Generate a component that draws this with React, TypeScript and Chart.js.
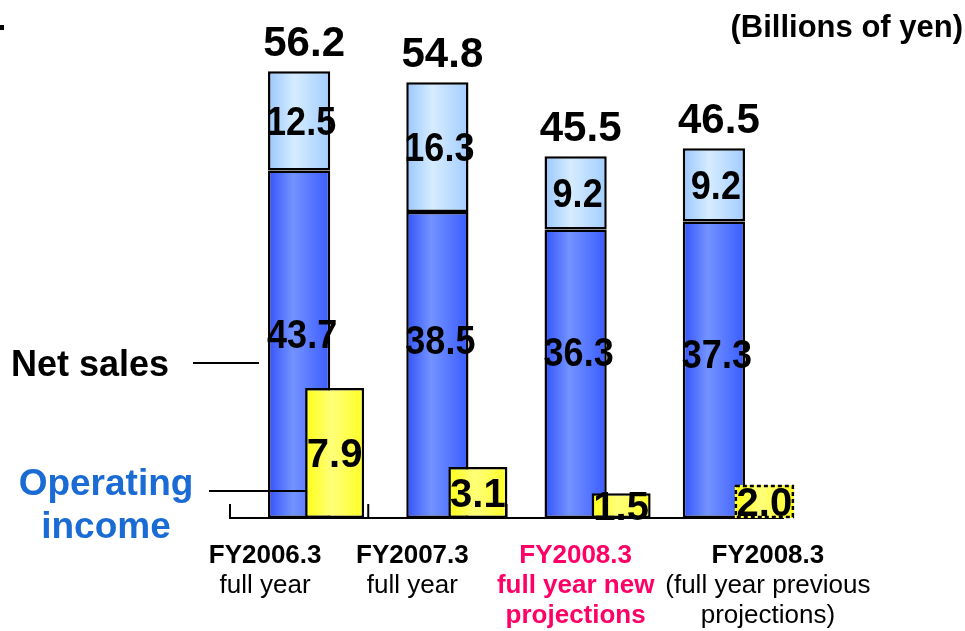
import React, { useEffect, useRef } from 'react';
import { Chart, registerables } from 'chart.js';

Chart.register(...registerables);

// ---- data ----
const categories = ['FY2006.3 full year', 'FY2007.3 full year', 'FY2008.3 full year new projections', 'FY2008.3 (full year previous projections)'];
const netSalesLower = [43.7, 38.5, 36.3, 37.3];
const netSalesUpper = [12.5, 16.3, 9.2, 9.2];
const operatingIncome = [7.9, 3.1, 1.5, 2.0];

const labelLine1 = ['FY2006.3', 'FY2007.3', 'FY2008.3', 'FY2008.3'];
const labelLine2 = ['full year', 'full year', 'full year new', '(full year previous'];
const labelLine3 = ['', '', 'projections', 'projections)'];

const unitTitle = '(Billions of yen)';
const netSalesTitle = 'Net sales';
const opIncomeTitle = ['Operating', 'income'];

// ---- styling ----
const FONT = "'Liberation Sans', Arial, Helvetica, sans-serif";
const HIGHLIGHT_INDEX = 2;
const DASHED_INDEX = 3;
const LABEL_SHIFT = [-34, -25, 0, 54];
const INNER_SHIFT = [-10, -25, -22, -16];

type Stops = [number, string][];
const DARK_STOPS: Stops = [[0, '#3353FA'], [0.4, '#7393FF'], [1, '#3A5CFF']];
const LIGHT_STOPS: Stops = [[0, '#99C7FF'], [0.42, '#D6ECFF'], [1, '#A2CDFF']];
const YELLOW_STOPS: Stops = [[0, '#FFFF14'], [0.45, '#FFFF7A'], [1, '#FFFF24']];

function barFill(half: number, stops: Stops, fallback: string) {
  return (c: any) => {
    const chart = c.chart;
    if (!chart.chartArea || c.dataIndex === undefined) return fallback;
    const cx = chart.scales.x.getPixelForValue(c.dataIndex);
    const g = chart.ctx.createLinearGradient(cx - half, 0, cx + half, 0);
    stops.forEach(([o, col]) => g.addColorStop(o, col));
    return g;
  };
}

function drawCondensed(ctx: CanvasRenderingContext2D, text: string, x: number, y: number, sx: number) {
  ctx.save();
  ctx.translate(x, y);
  ctx.scale(sx, 1);
  ctx.fillText(text, 0, 0);
  ctx.restore();
}

// plugin for the net-sales chart (underneath)
const salesPlugin = {
  id: 'salesAnnotate',
  beforeDatasetsDraw(chart: any) {
    const { ctx, chartArea: a } = chart;
    ctx.save();
    ctx.strokeStyle = '#000';
    ctx.lineWidth = 2;
    ctx.beginPath();
    ctx.moveTo(a.left, a.bottom);
    ctx.lineTo(a.right, a.bottom);
    const step = (a.right - a.left) / categories.length;
    for (let k = 0; k <= categories.length; k++) {
      const x = a.left + k * step;
      ctx.moveTo(x, a.bottom + 1);
      ctx.lineTo(x, a.bottom - 14);
    }
    ctx.stroke();
    ctx.restore();
  },
  afterDatasetsDraw(chart: any) {
    const { ctx } = chart;
    const lower = chart.getDatasetMeta(0).data;
    const upper = chart.getDatasetMeta(1).data;
    ctx.save();
    ctx.fillStyle = '#000';
    ctx.textAlign = 'center';
    ctx.textBaseline = 'alphabetic';
    for (let i = 0; i < categories.length; i++) {
      const lo = lower[i];
      const up = upper[i];
      ctx.font = `bold 40px ${FONT}`;
      drawCondensed(ctx, netSalesLower[i].toFixed(1), lo.x + 3, (lo.y + lo.base) / 2 + INNER_SHIFT[i] + 14, 0.9);
      drawCondensed(ctx, netSalesUpper[i].toFixed(1), up.x + 2, (up.y + up.base) / 2 + 14, 0.9);
      ctx.font = `bold 42px ${FONT}`;
      const total = netSalesLower[i] + netSalesUpper[i];
      ctx.fillText(total.toFixed(1), up.x + 5, up.y - 15);
    }
    ctx.restore();
  },
};

// plugin for the operating-income chart (on top)
function makeOpPlugin(salesChartRef: { current: any }) {
  return {
    id: 'opAnnotate',
    afterDatasetsDraw(chart: any) {
      const { ctx } = chart;
      const op = chart.getDatasetMeta(0).data;
      ctx.save();

      // dashed border for the previous-projection bar
      const d = op[DASHED_INDEX];
      if (d) {
        ctx.save();
        ctx.strokeStyle = '#000';
        ctx.lineWidth = 2.5;
        ctx.setLineDash([4, 3]);
        ctx.strokeRect(d.x - d.width / 2 + 1, d.y + 1, d.width - 2, d.base - d.y - 2);
        ctx.restore();
      }

      ctx.fillStyle = '#000';
      ctx.textAlign = 'center';
      ctx.textBaseline = 'alphabetic';
      ctx.font = `bold 40px ${FONT}`;
      for (let i = 0; i < operatingIncome.length; i++) {
        const yo = op[i];
        ctx.fillText(operatingIncome[i].toFixed(1), yo.x, (yo.y + yo.base) / 2 + 14);
      }

      // category labels, positioned from the net-sales category axis
      const sx = salesChartRef.current ? salesChartRef.current.scales.x : null;
      for (let i = 0; i < categories.length; i++) {
        const base = sx ? sx.getPixelForValue(i) : 0;
        const cx = base + LABEL_SHIFT[i];
        const hi = i === HIGHLIGHT_INDEX;
        ctx.fillStyle = hi ? '#FF0066' : '#000';
        ctx.font = `bold 26px ${FONT}`;
        ctx.fillText(labelLine1[i], cx, 563);
        ctx.font = `${hi ? 'bold ' : ''}26px ${FONT}`;
        ctx.fillText(labelLine2[i], cx, 593);
        if (labelLine3[i]) ctx.fillText(labelLine3[i], cx, 623);
      }

      // unit title
      ctx.fillStyle = '#000';
      ctx.textAlign = 'right';
      ctx.font = `bold 31px ${FONT}`;
      ctx.fillText(unitTitle, 963, 37);

      // left legend labels
      ctx.textAlign = 'center';
      ctx.font = `bold 36px ${FONT}`;
      ctx.fillText(netSalesTitle, 90, 376);
      ctx.fillStyle = '#1A6BD3';
      ctx.font = `bold 37px ${FONT}`;
      ctx.fillText(opIncomeTitle[0], 106, 495);
      ctx.fillText(opIncomeTitle[1], 106, 538);

      ctx.strokeStyle = '#000';
      ctx.lineWidth = 2;
      ctx.beginPath();
      ctx.moveTo(193, 363);
      ctx.lineTo(259, 363);
      ctx.moveTo(209, 491);
      ctx.lineTo(306, 491);
      ctx.stroke();

      // stray mark at the top-left edge of the original slide
      ctx.fillStyle = '#000';
      ctx.fillRect(0, 25, 4, 5);
      ctx.restore();
    },
  };
}

export default function App() {
  const salesRef = useRef<HTMLCanvasElement>(null);
  const opRef = useRef<HTMLCanvasElement>(null);

  useEffect(() => {
    const salesChartRef: { current: any } = { current: null };

    const salesChart = new Chart(salesRef.current!, {
      type: 'bar',
      data: {
        labels: categories,
        datasets: [
          {
            label: 'Net sales (lower)',
            data: netSalesLower,
            barPercentage: 0.45,
            categoryPercentage: 1,
            backgroundColor: barFill(31, DARK_STOPS, '#4F70FF'),
            borderColor: '#000',
            borderWidth: 2.5,
            borderSkipped: false,
          },
          {
            label: 'Net sales (upper)',
            data: netSalesUpper,
            barPercentage: 0.45,
            categoryPercentage: 1,
            backgroundColor: barFill(31, LIGHT_STOPS, '#B8DAFF'),
            borderColor: '#000',
            borderWidth: 2.5,
            borderSkipped: false,
          },
        ],
      },
      options: {
        responsive: false,
        animation: false,
        layout: { padding: { left: 230, right: 182, top: 41, bottom: 113 } },
        plugins: { legend: { display: false }, tooltip: { enabled: false } },
        scales: {
          x: { type: 'category', display: false, stacked: true, offset: true },
          y: { type: 'linear', display: false, stacked: true, min: 0, max: 60 },
        },
      } as any,
      plugins: [salesPlugin],
    });
    salesChartRef.current = salesChart;

    const opChart = new Chart(opRef.current!, {
      type: 'bar',
      data: {
        labels: categories,
        datasets: [
          {
            label: 'Operating income',
            data: operatingIncome,
            barPercentage: 0.412,
            categoryPercentage: 1,
            backgroundColor: barFill(29.5, YELLOW_STOPS, '#FFFF40'),
            borderColor: '#000',
            borderWidth: (c: any) => (c.dataIndex === DASHED_INDEX ? 0 : 2.5),
            borderSkipped: false,
          } as any,
        ],
      },
      options: {
        responsive: false,
        animation: false,
        layout: { padding: { left: 263, right: 129, top: 41, bottom: 113 } },
        plugins: { legend: { display: false }, tooltip: { enabled: false } },
        scales: {
          x: { type: 'category', display: false, offset: true },
          y: { type: 'linear', display: false, min: 0, max: 29 },
        },
      } as any,
      plugins: [makeOpPlugin(salesChartRef)],
    });

    return () => {
      opChart.destroy();
      salesChart.destroy();
    };
  }, []);

  const canvasStyle: React.CSSProperties = { position: 'absolute', left: 0, top: 0, display: 'block' };
  return (
    <div style={{ position: 'fixed', left: 0, top: 0, width: 965, height: 631, background: '#fff' }}>
      <canvas ref={salesRef} width={965} height={631} style={canvasStyle} />
      <canvas ref={opRef} width={965} height={631} style={canvasStyle} />
    </div>
  );
}
